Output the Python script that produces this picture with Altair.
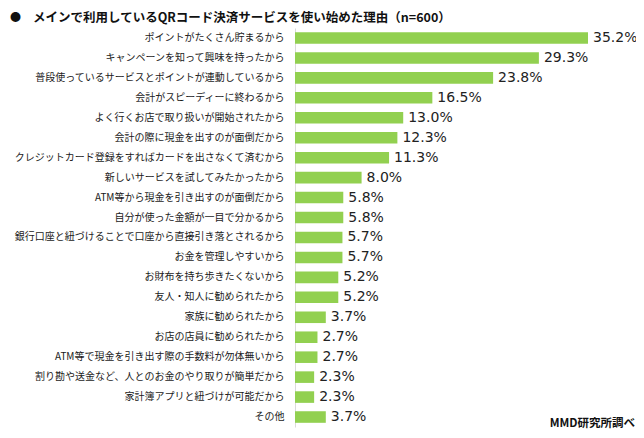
import altair as alt
import pandas as pd

categories = [
    "ポイントがたくさん貯まるから",
    "キャンペーンを知って興味を持ったから",
    "普段使っているサービスとポイントが連動しているから",
    "会計がスピーディーに終わるから",
    "よく行くお店で取り扱いが開始されたから",
    "会計の際に現金を出すのが面倒だから",
    "クレジットカード登録をすればカードを出さなくて済むから",
    "新しいサービスを試してみたかったから",
    "ATM等から現金を引き出すのが面倒だから",
    "自分が使った金額が一目で分かるから",
    "銀行口座と紐づけることで口座から直接引き落とされるから",
    "お金を管理しやすいから",
    "お財布を持ち歩きたくないから",
    "友人・知人に勧められたから",
    "家族に勧められたから",
    "お店の店員に勧められたから",
    "ATM等で現金を引き出す際の手数料が勿体無いから",
    "割り勘や送金など、人とのお金のやり取りが簡単だから",
    "家計簿アプリと紐づけが可能だから",
    "その他",
]
values = [35.2, 29.3, 23.8, 16.5, 13.0, 12.3, 11.3, 8.0, 5.8, 5.8,
          5.7, 5.7, 5.2, 5.2, 3.7, 2.7, 2.7, 2.3, 2.3, 3.7]
title_text = "メインで利用しているQRコード決済サービスを使い始めた理由（n=600）"
source_text = "MMD研究所調べ"

df = pd.DataFrame({"reason": categories, "pct": values})
df["label"] = [f"{v:.1f}%" for v in values]

JP = "Noto Sans CJK JP"

y_enc = alt.Y(
    "reason:N",
    sort=categories,
    scale=alt.Scale(paddingInner=0.42, paddingOuter=0.21),
    axis=alt.Axis(
        title=None,
        ticks=False,
        labelFontSize=10,
        labelFont=JP,
        labelColor="#1a1a1a",
        labelPadding=11,
        labelLimit=400,
        domainColor="#D9D9D9",
        domainWidth=1,
        grid=False,
    ),
)
x_enc = alt.X("pct:Q", scale=alt.Scale(domain=[0, 35.2], nice=False, zero=True), axis=None)

base = alt.Chart(df)
bars = base.mark_bar(color="#92D050").encode(x=x_enc, y=y_enc)
labels = base.mark_text(
    align="left", baseline="middle", dx=5, font="DejaVu Sans", fontSize=14, color="#222222"
).encode(x=x_enc, y=y_enc, text="label:N")

bullet = alt.Chart(pd.DataFrame({"t": ["●"]})).mark_text(
    align="left", baseline="middle", font=JP, fontSize=11, color="#111111"
).encode(x=alt.value(-285), y=alt.value(-10), text="t:N")

title = alt.Chart(pd.DataFrame({"t": [title_text]})).mark_text(
    align="left", baseline="middle", font=JP, fontSize=12.5, fontWeight="bold", color="#111111"
).encode(x=alt.value(-262), y=alt.value(-10), text="t:N")

source = alt.Chart(pd.DataFrame({"t": [source_text]})).mark_text(
    align="right", baseline="bottom", font=JP, fontSize=11.5, fontWeight="bold", color="#111111"
).encode(x=alt.value(340), y=alt.value(401), text="t:N")

chart = alt.layer(bars, labels, bullet, title, source).properties(
    width=293,
    height=399,
    padding={"left": 287, "top": 20, "right": 48, "bottom": 3},
    autosize=alt.AutoSizeParams(type="none"),
).configure_view(stroke=None)

chart.save("out.html", embed_options={"renderer": "svg", "actions": False})
